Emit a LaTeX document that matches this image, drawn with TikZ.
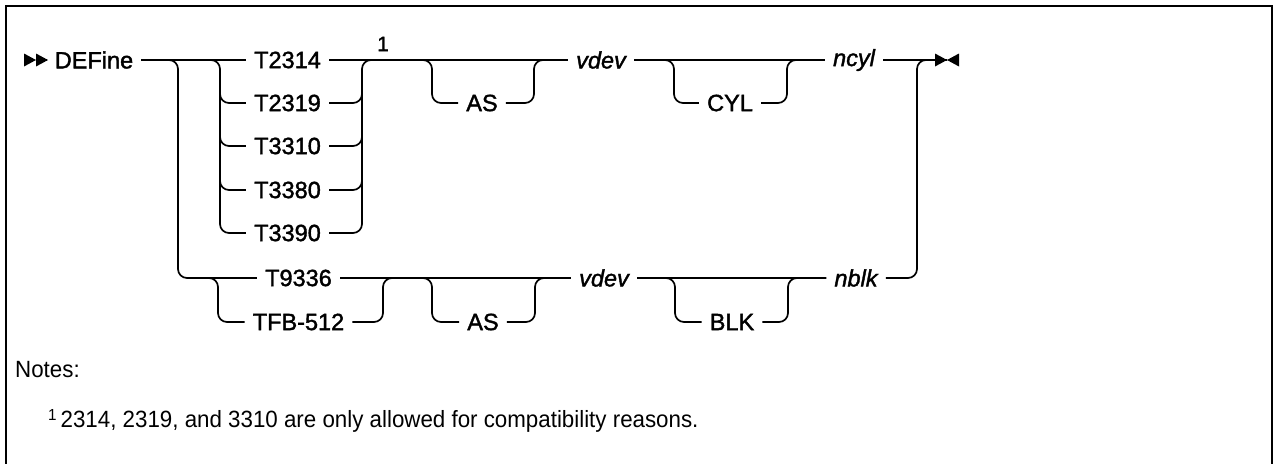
\documentclass[tikz,border=0pt]{standalone}
\usepackage{fontspec}
\setmainfont{Liberation Sans}
\newfontfamily\diafont[FakeBold=1.6]{Liberation Sans}
\newfontfamily\notefont[FakeStretch=0.95]{Liberation Sans}
\usetikzlibrary{calc}
\tikzset{
  rr/.style={line width=1.7pt, rounded corners=9pt},
  lbl/.style={inner xsep=8pt, inner ysep=0pt, font=\diafont\fontsize{23.5}{23.5}\selectfont},
  var/.style={lbl, font=\diafont\fontsize{23.5}{23.5}\selectfont\itshape},
  frame/.style={line width=2pt},
  tip/.style={fill=black, draw=none},
  note/.style={anchor=west, inner sep=0pt, font=\notefont\fontsize{23.5}{23.5}\selectfont},
}
\begin{document}
\begin{tikzpicture}[x=1pt, y=-1pt]
\useasboundingbox (0,0) rectangle (1273,463);
\draw[frame] (6,480) -- (6,6) -- (1272,6) -- (1272,480);

% start and end marks
\coordinate (start) at (45,60);
\coordinate (stop) at (947,60);
\fill[tip] (24,53.5) -- (36,60) -- (24,66.5) -- cycle;
\fill[tip] (36,53.5) -- (48,60) -- (36,66.5) -- cycle;
\fill[tip] (935,53.5) -- (947,60) -- (935,66.5) -- cycle;
\fill[tip] (959,53.5) -- (947,60) -- (959,66.5) -- cycle;

% labels
\node[lbl] (define) at (94,60) {DEFine};
\node[lbl] (t2314) at (287.5,60) {T2314};
\node[lbl] (t2319) at (287.5,103) {T2319};
\node[lbl] (t3310) at (287.5,146) {T3310};
\node[lbl] (t3380) at (287.5,190) {T3380};
\node[lbl] (t3390) at (287.5,233) {T3390};
\node[lbl] (t9336) at (298.5,278) {T9336};
\node[lbl] (tfb) at (298.5,322) {TFB-512};
\node[lbl] (as1) at (482,103) {AS};
\node[lbl] (as2) at (483,322) {AS};
\node[var] (vdev1) at (601,60) {vdev};
\node[var] (vdev2) at (604,278) {vdev};
\node[lbl] (cyl) at (730,103) {CYL};
\node[lbl] (blk) at (732,322) {BLK};
\node[var] (ncyl) at (854,60) {ncyl};
\node[var] (nblk) at (856,278) {nblk};
\node[inner sep=0pt, font=\diafont\fontsize{21}{21}\selectfont] (fn1) at (383,44) {1};

% main top row
\draw[rr] (start) -- (define.west);
\draw[rr] (define.east) -- (t2314.west);
\draw[rr] (t2314.east) -- (vdev1.west);
\draw[rr] (vdev1.east) -- (ncyl.west);
\draw[rr] (ncyl.east) -- (stop);

% outer branch to T9336 row
\draw[rr] (define.east) -| (178,278) -- (t9336.west);
% inner branch for T23xx/T33xx
\draw[rr] (define.east) -| (220,233) -- (t3390.west);
\draw[rr] (220,70) |- (t2319.west);
\draw[rr] (220,70) |- (t3310.west);
\draw[rr] (220,70) |- (t3380.west);
% merge
\draw[rr] (t3390.east) -| (362,60) -- (380,60);
\draw[rr] (t2319.east) -| (362,70);
\draw[rr] (t3310.east) -| (362,70);
\draw[rr] (t3380.east) -| (362,70);

% AS loop top
\draw[rr] (400,60) -| (432,103) -- (as1.west);
\draw[rr] (as1.east) -| (534,60) -- (vdev1.west);
% CYL loop
\draw[rr] (vdev1.east) -| (674,103) -- (cyl.west);
\draw[rr] (cyl.east) -| (787,60) -- (ncyl.west);

% bottom row
\draw[rr] (t9336.east) -- (vdev2.west);
\draw[rr] (192,278) -| (218,322) -- (tfb.west);
\draw[rr] (tfb.east) -| (383,278) -- (400,278);
\draw[rr] (400,278) -| (432,322) -- (as2.west);
\draw[rr] (as2.east) -| (535,278) -- (vdev2.west);
\draw[rr] (vdev2.east) -- (nblk.west);
\draw[rr] (vdev2.east) -| (675,322) -- (blk.west);
\draw[rr] (blk.east) -| (788,278) -- (nblk.west);
\draw[rr] (nblk.east) -| (917,60) -- (stop);

% notes
\node[note] (notes) at (15,370) {Notes:};
\node[note] (foot) at (48,421) {{\fontsize{16}{16}\selectfont\raisebox{7pt}{1}}\hspace{4pt}2314, 2319, and 3310 are only allowed for compatibility reasons.};
\end{tikzpicture}
\end{document}
